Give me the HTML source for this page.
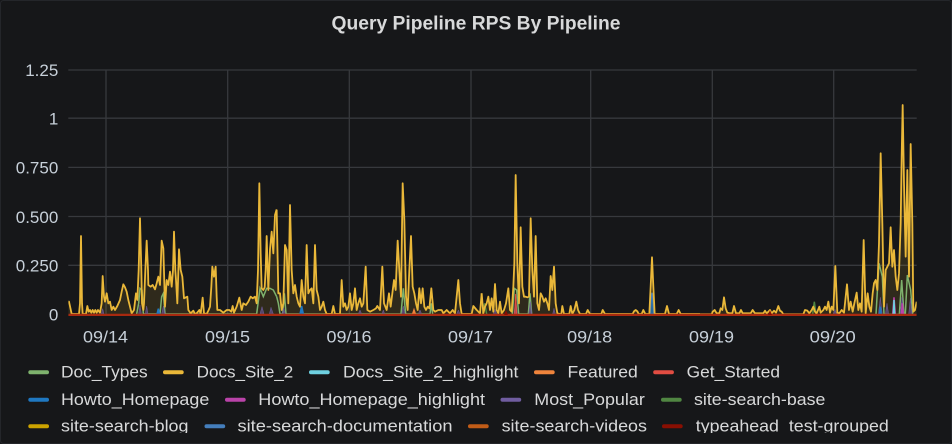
<!DOCTYPE html>
<html>
<head>
<meta charset="utf-8">
<style>
html,body{margin:0;padding:0;background:#161719;}
body{width:952px;height:444px;overflow:hidden;}
svg{display:block;}
text{font-family:"Liberation Sans",sans-serif;}
</style>
</head>
<body>
<svg width="952" height="444" viewBox="0 0 952 444" xmlns="http://www.w3.org/2000/svg">
  <defs>
    <clipPath id="plot"><rect x="68.3" y="60" width="848.4" height="256"/></clipPath>
    <clipPath id="leg"><rect x="0" y="355" width="952" height="78"/></clipPath>
  </defs>
  <rect x="0" y="0" width="952" height="444" fill="#161719"/>
  <rect x="0.5" y="0.5" width="951" height="443" rx="3" ry="3" fill="none" stroke="#24262a" stroke-width="1"/>

  <!-- Title -->
  <text x="476" y="29.5" text-anchor="middle" font-size="19.5" font-weight="bold" fill="#d8d9da" textLength="289" lengthAdjust="spacingAndGlyphs">Query Pipeline RPS By Pipeline</text>

  <!-- grid -->
  <g stroke="#37393d" stroke-width="1.3">
    <line x1="68.3" y1="70" x2="916.7" y2="70"/>
    <line x1="68.3" y1="118.2" x2="916.7" y2="118.2"/>
    <line x1="68.3" y1="167.4" x2="916.7" y2="167.4"/>
    <line x1="68.3" y1="216.5" x2="916.7" y2="216.5"/>
    <line x1="68.3" y1="265.3" x2="916.7" y2="265.3"/>
    <line x1="106" y1="70" x2="106" y2="314"/>
    <line x1="227.7" y1="70" x2="227.7" y2="314"/>
    <line x1="349.3" y1="70" x2="349.3" y2="314"/>
    <line x1="471" y1="70" x2="471" y2="314"/>
    <line x1="590.7" y1="70" x2="590.7" y2="314"/>
    <line x1="712.3" y1="70" x2="712.3" y2="314"/>
    <line x1="833.7" y1="70" x2="833.7" y2="314"/>
  </g>

  <!-- y labels -->
  <g font-size="17" fill="#c7d0d9" text-anchor="end">
    <text x="58.3" y="76">1.25</text>
    <text x="58.3" y="124.5">1</text>
    <text x="58.3" y="173.7">0.750</text>
    <text x="58.3" y="222.8">0.500</text>
    <text x="58.3" y="271.6">0.250</text>
    <text x="58.3" y="320.6">0</text>
  </g>
  <!-- x labels -->
  <g font-size="17" fill="#c7d0d9" text-anchor="middle">
    <text x="105.5" y="342.5" textLength="45" lengthAdjust="spacingAndGlyphs">09/14</text>
    <text x="227.5" y="342.5" textLength="45" lengthAdjust="spacingAndGlyphs">09/15</text>
    <text x="349" y="342.5" textLength="45" lengthAdjust="spacingAndGlyphs">09/16</text>
    <text x="470.5" y="342.5" textLength="45" lengthAdjust="spacingAndGlyphs">09/17</text>
    <text x="589.7" y="342.5" textLength="45" lengthAdjust="spacingAndGlyphs">09/18</text>
    <text x="711.5" y="342.5" textLength="45" lengthAdjust="spacingAndGlyphs">09/19</text>
    <text x="832.7" y="342.5" textLength="46" lengthAdjust="spacingAndGlyphs">09/20</text>
  </g>

  <g clip-path="url(#plot)">
    <!-- Segment 1 -->
    <g transform="translate(60,170) scale(0.333333)">
      <polygon fill="#eab839" fill-opacity="0.12" points="25,432 25,395 27,395 35,432 57,432 60,400 63,198 66,400 68,432 78,432 82,408 86,425 90,420 94,428 98,420 102,428 106,420 110,428 114,420 120,428 125,400 128,318 132,380 135,395 140,370 145,400 150,395 155,420 160,410 165,420 172,408 180,390 185,365 190,343 195,352 200,365 205,390 210,410 215,430 222,420 228,370 232,390 236,300 240,145 244,300 246,400 250,420 252,400 256,300 260,212 264,300 265,345 272,350 278,345 285,358 290,340 295,320 300,345 305,212 310,235 315,410 320,330 325,345 330,305 335,350 339,300 342,185 346,300 348,330 352,400 357,238 362,300 367,320 372,385 378,382 382,380 385,420 392,430 400,422 405,432 410,430 418,420 422,432 428,383 432,430 440,432 446,420 450,410 454,350 457,290 462,320 467,290 470,380 472,420 480,420 490,428 500,420 508,420 514,425 518,408 522,428 530,410 538,383 545,420 550,400 558,405 565,395 572,380 578,385 585,380 590,400 594,300 598,40 602,250 605,355 610,360 614,352 617,300 620,198 623,300 625,360 630,238 635,185 640,250 645,135 650,118 650,432"/>
      <polyline fill="none" stroke="#7eb26d" stroke-width="1.5" vector-effect="non-scaling-stroke" points="230,432 236,400 240,355 246,360 250,432 300,432 305,380 310,370 315,432 590,432 600,355 610,380 620,355 630,355 640,360 650,380"/>
      <g fill="#705da0" fill-opacity="0.6" stroke="#705da0" stroke-width="1.5" vector-effect="non-scaling-stroke">
        <polygon points="124,432 128,416 132,432"/>
        <polygon points="236,432 240,405 244,432"/>
        <polygon points="256,432 260,408 264,432"/>
        <polygon points="305,432 310,408 315,432"/>
        <polygon points="600,432 606,410 612,432"/>
        <polygon points="628,432 633,412 640,432"/>
      </g>
      <polygon points="291,432 295,416 299,432" fill="#1f78c1" stroke="#1f78c1" stroke-width="1.5" vector-effect="non-scaling-stroke"/>
      <polyline fill="none" stroke="#eab839" stroke-width="1.8" stroke-linejoin="round" vector-effect="non-scaling-stroke" points="25,395 27,395 35,432 57,432 60,400 63,198 66,400 68,432 78,432 82,408 86,425 90,420 94,428 98,420 102,428 106,420 110,428 114,420 120,428 125,400 128,318 132,380 135,395 140,370 145,400 150,395 155,420 160,410 165,420 172,408 180,390 185,365 190,343 195,352 200,365 205,390 210,410 215,430 222,420 228,370 232,390 236,300 240,145 244,300 246,400 250,420 252,400 256,300 260,212 264,300 265,345 272,350 278,345 285,358 290,340 295,320 300,345 305,212 310,235 315,410 320,330 325,345 330,305 335,350 339,300 342,185 346,300 348,330 352,400 357,238 362,300 367,320 372,385 378,382 382,380 385,420 392,430 400,422 405,432 410,430 418,420 422,432 428,383 432,430 440,432 446,420 450,410 454,350 457,290 462,320 467,290 470,380 472,420 480,420 490,428 500,420 508,420 514,425 518,408 522,428 530,410 538,383 545,420 550,400 558,405 565,395 572,380 578,385 585,380 590,400 594,300 598,40 602,250 605,355 610,360 614,352 617,300 620,198 623,300 625,360 630,238 635,185 640,250 645,135 650,118"/>
    </g>

    <!-- Segment 2 -->
    <g transform="translate(270,170) scale(0.333333)">
      <polygon fill="#eab839" fill-opacity="0.12" points="20,432 20,120 25,370 30,370 35,420 40,400 45,225 50,240 55,400 60,105 65,300 70,370 75,345 80,380 85,400 90,410 95,330 100,380 105,400 110,225 115,370 120,360 125,355 130,400 135,225 140,360 145,380 150,420 155,410 160,395 165,420 170,432 185,432 190,408 195,432 210,432 215,330 220,410 225,400 230,420 235,410 240,370 245,420 250,400 255,355 260,420 265,400 270,385 275,410 280,400 287,290 292,420 300,425 310,420 318,415 322,408 330,420 337,290 342,400 350,420 357,370 362,410 367,370 372,330 377,360 383,212 388,300 393,380 398,40 403,150 408,380 413,420 418,300 423,198 428,350 433,370 438,400 443,420 448,355 453,400 458,355 463,410 468,420 473,410 478,415 484,355 490,420 495,425 505,420 515,420 520,430 530,420 540,430 548,420 555,430 565,330 570,400 575,432 605,432 610,408 620,420 630,430 635,370 635,432"/>
      <polyline fill="none" stroke="#7eb26d" stroke-width="1.5" vector-effect="non-scaling-stroke" points="20,380 25,400 30,432 38,432 43,370 48,432 393,432 400,355 407,432 480,432 484,400 488,432"/>
      <g fill="#705da0" fill-opacity="0.6" stroke="#705da0" stroke-width="1.5" vector-effect="non-scaling-stroke">
        <polygon points="36,432 41,414 46,432"/>
        <polygon points="265,432 270,420 275,432"/>
        <polygon points="336,432 340,420 344,432"/>
        <polygon points="395,432 400,408 405,432"/>
        <polygon points="445,432 450,420 455,432"/>
        <polygon points="560,432 565,420 570,432"/>
      </g>
      <polygon points="90,432 95,408 100,432" fill="#1f78c1" stroke="#1f78c1" stroke-width="1.5" vector-effect="non-scaling-stroke"/>
      <polygon points="428,432 432,420 436,432" fill="#ef843c" stroke="#ef843c" stroke-width="1.5" vector-effect="non-scaling-stroke"/>
      <polyline fill="none" stroke="#eab839" stroke-width="1.8" stroke-linejoin="round" vector-effect="non-scaling-stroke" points="20,120 25,370 30,370 35,420 40,400 45,225 50,240 55,400 60,105 65,300 70,370 75,345 80,380 85,400 90,410 95,330 100,380 105,400 110,225 115,370 120,360 125,355 130,400 135,225 140,360 145,380 150,420 155,410 160,395 165,420 170,432 185,432 190,408 195,432 210,432 215,330 220,410 225,400 230,420 235,410 240,370 245,420 250,400 255,355 260,420 265,400 270,385 275,410 280,400 287,290 292,420 300,425 310,420 318,415 322,408 330,420 337,290 342,400 350,420 357,370 362,410 367,370 372,330 377,360 383,212 388,300 393,380 398,40 403,150 408,380 413,420 418,300 423,198 428,350 433,370 438,400 443,420 448,355 453,400 458,355 463,410 468,420 473,410 478,415 484,355 490,420 495,425 505,420 515,420 520,430 530,420 540,430 548,420 555,430 565,330 570,400 575,432 605,432 610,408 620,420 630,430 635,370"/>
    </g>

    <!-- Segment 3 -->
    <g transform="translate(480,170) scale(0.333333)">
      <polygon fill="#eab839" fill-opacity="0.12" points="5,432 5,370 10,430 15,410 20,400 25,380 30,420 35,385 40,425 45,342 50,420 55,430 60,395 65,430 72,420 78,400 85,355 90,420 95,425 100,350 103,280 107,15 112,280 117,400 122,172 127,350 132,380 137,380 142,382 147,380 152,145 157,300 162,380 167,198 172,400 177,420 182,370 187,380 192,395 197,385 202,400 207,420 212,318 217,360 222,290 227,400 232,430 240,432 244,432 247,408 252,432 268,432 272,408 277,432 283,420 289,395 294,420 300,432 318,432 323,420 330,432 364,432 368,420 375,432 458,432 462,424 467,420 472,424 476,432 485,432 490,420 496,432 508,432 512,350 516,262 520,350 524,432 555,432 561,408 567,432 590,432 596,420 602,432 660,432"/>
      <polyline fill="none" stroke="#508642" stroke-width="1.5" vector-effect="non-scaling-stroke" points="8,432 14,400 20,432"/>
      <polyline fill="none" stroke="#7eb26d" stroke-width="1.5" vector-effect="non-scaling-stroke" points="97,432 103,355 110,360 116,432 145,432 150,370 155,432"/>
      <g fill="#705da0" fill-opacity="0.6" stroke="#705da0" stroke-width="1.5" vector-effect="non-scaling-stroke">
        <polygon points="40,432 45,418 50,432"/>
        <polygon points="102,432 107,385 112,432"/>
        <polygon points="146,432 151,395 156,432"/>
        <polygon points="218,432 222,415 226,432"/>
      </g>
      <polygon points="104,432 107,372 110,432" fill="#e24d42" fill-opacity="0.5" stroke="#e24d42" stroke-width="1" vector-effect="non-scaling-stroke"/>
      <polygon points="510,432 513,390 516,368 519,390 522,432" fill="#1f78c1" fill-opacity="0.8" stroke="#447ebc" stroke-width="1.5" vector-effect="non-scaling-stroke"/>
      <polyline fill="none" stroke="#eab839" stroke-width="1.8" stroke-linejoin="round" vector-effect="non-scaling-stroke" points="5,370 10,430 15,410 20,400 25,380 30,420 35,385 40,425 45,342 50,420 55,430 60,395 65,430 72,420 78,400 85,355 90,420 95,425 100,350 103,280 107,15 112,280 117,400 122,172 127,350 132,380 137,380 142,382 147,380 152,145 157,300 162,380 167,198 172,400 177,420 182,370 187,380 192,395 197,385 202,400 207,420 212,318 217,360 222,290 227,400 232,430 240,432 244,432 247,408 252,432 268,432 272,408 277,432 283,420 289,395 294,420 300,432 318,432 323,420 330,432 364,432 368,420 375,432 458,432 462,424 467,420 472,424 476,432 485,432 490,420 496,432 508,432 512,350 516,262 520,350 524,432 555,432 561,408 567,432 590,432 596,420 602,432 660,432"/>
    </g>

    <!-- Segment 4 -->
    <g transform="translate(700,90) scale(0.333333)">
      <polygon fill="#eab839" fill-opacity="0.12" points="0,673 35,673 38,665 44,660 50,670 58,670 62,655 67,660 72,622 77,655 82,668 90,670 97,670 102,648 108,670 118,670 123,660 128,670 152,670 158,660 165,670 190,670 195,662 200,670 210,660 215,670 222,662 228,668 235,648 240,662 245,665 250,673 310,673 315,660 322,662 328,670 335,660 340,650 345,665 350,670 358,650 362,668 370,660 375,650 380,660 385,635 390,668 395,650 400,660 406,528 412,668 418,670 425,660 432,668 441,583 447,660 452,635 458,665 463,640 470,608 475,660 480,640 485,665 491,450 497,670 503,610 508,650 513,665 518,610 522,580 527,570 532,600 537,460 542,190 547,400 552,650 557,540 562,530 567,520 572,412 577,530 582,480 587,560 592,600 597,550 602,400 605,200 608,45 612,280 617,500 622,240 627,560 632,162 637,400 640,665 645,660 650,635 650,673"/>
      <polyline fill="none" stroke="#508642" stroke-width="1.5" vector-effect="non-scaling-stroke" points="338,673 343,635 348,673"/>
      <polyline fill="none" stroke="#7eb26d" stroke-width="1.5" vector-effect="non-scaling-stroke" points="528,673 537,520 547,560 552,673 598,673 605,570 612,673 616,673 622,555 632,600 638,673"/>
      <g fill="#705da0" fill-opacity="0.6" stroke="#705da0" stroke-width="1.5" vector-effect="non-scaling-stroke">
        <polygon points="400,673 405,658 410,673"/>
        <polygon points="535,673 541,622 547,673"/>
        <polygon points="556,673 561,640 566,673"/>
        <polygon points="600,673 606,622 612,673"/>
        <polygon points="626,673 631,625 636,673"/>
      </g>
      <polygon points="538,673 541,650 544,673" fill="#1f78c1" stroke="#1f78c1" stroke-width="1.5" vector-effect="non-scaling-stroke"/>
      <polygon points="578,673 582,622 586,673" fill="#ba43a9" stroke="#ba43a9" stroke-width="1.5" vector-effect="non-scaling-stroke"/>
      <polygon points="604,673 607,640 610,673" fill="#ba43a9" stroke="#ba43a9" stroke-width="1.5" vector-effect="non-scaling-stroke"/>
      <polyline fill="none" stroke="#6ed0e0" stroke-width="1.5" vector-effect="non-scaling-stroke" points="580,673 582,630 584,673"/>
      <polyline fill="none" stroke="#eab839" stroke-width="1.8" stroke-linejoin="round" vector-effect="non-scaling-stroke" points="0,673 35,673 38,665 44,660 50,670 58,670 62,655 67,660 72,622 77,655 82,668 90,670 97,670 102,648 108,670 118,670 123,660 128,670 152,670 158,660 165,670 190,670 195,662 200,670 210,660 215,670 222,662 228,668 235,648 240,662 245,665 250,673 310,673 315,660 322,662 328,670 335,660 340,650 345,665 350,670 358,650 362,668 370,660 375,650 380,660 385,635 390,668 395,650 400,660 406,528 412,668 418,670 425,660 432,668 441,583 447,660 452,635 458,665 463,640 470,608 475,660 480,640 485,665 491,450 497,670 503,610 508,650 513,665 518,610 522,580 527,570 532,600 537,460 542,190 547,400 552,650 557,540 562,530 567,520 572,412 577,530 582,480 587,560 592,600 597,550 602,400 605,200 608,45 612,280 617,500 622,240 627,560 632,162 637,400 640,665 645,660 650,635"/>
    </g>

    <!-- baseline (typeahead / videos at zero) -->
    <line x1="68.3" y1="315" x2="916.7" y2="315" stroke="#a8290f" stroke-width="2.4"/>
    <polygon points="504,315 506,310 508,315" fill="#890f02"/>
    <polygon points="768,315 770,310 772,315" fill="#890f02"/>
  </g>

  <!-- Legend -->
  <g clip-path="url(#leg)" font-size="17" fill="#d8d9da">
    <!-- row 1 -->
    <rect x="28.3" y="370.3" width="20.7" height="4" rx="2" fill="#7eb26d"/>
    <text x="61" y="377.7" textLength="86.7" lengthAdjust="spacingAndGlyphs">Doc_Types</text>
    <rect x="163" y="370.3" width="20.7" height="4" rx="2" fill="#eab839"/>
    <text x="196.7" y="377.7" textLength="96.6" lengthAdjust="spacingAndGlyphs">Docs_Site_2</text>
    <rect x="309" y="370.3" width="20.7" height="4" rx="2" fill="#6ed0e0"/>
    <text x="343" y="377.7" textLength="175.4" lengthAdjust="spacingAndGlyphs">Docs_Site_2_highlight</text>
    <rect x="534" y="370.3" width="20.7" height="4" rx="2" fill="#ef843c"/>
    <text x="567.5" y="377.7" textLength="70.3" lengthAdjust="spacingAndGlyphs">Featured</text>
    <rect x="653.2" y="370.3" width="20.7" height="4" rx="2" fill="#e24d42"/>
    <text x="686.7" y="377.7" textLength="93.3" lengthAdjust="spacingAndGlyphs">Get_Started</text>
    <!-- row 2 -->
    <rect x="28.3" y="397.7" width="20.7" height="4" rx="2" fill="#1f78c1"/>
    <text x="61" y="405" textLength="148.3" lengthAdjust="spacingAndGlyphs">Howto_Homepage</text>
    <rect x="225" y="397.7" width="20.7" height="4" rx="2" fill="#ba43a9"/>
    <text x="258.3" y="405" textLength="226.7" lengthAdjust="spacingAndGlyphs">Howto_Homepage_highlight</text>
    <rect x="500.5" y="397.7" width="20.7" height="4" rx="2" fill="#705da0"/>
    <text x="534.3" y="405" textLength="110.5" lengthAdjust="spacingAndGlyphs">Most_Popular</text>
    <rect x="661" y="397.7" width="20.7" height="4" rx="2" fill="#508642"/>
    <text x="694" y="405" textLength="131.4" lengthAdjust="spacingAndGlyphs">site-search-base</text>
    <!-- row 3 -->
    <rect x="28.3" y="424.3" width="20.7" height="4" rx="2" fill="#cca300"/>
    <text x="61" y="431.7" textLength="127.5" lengthAdjust="spacingAndGlyphs">site-search-blog</text>
    <rect x="204.5" y="424.3" width="20.7" height="4" rx="2" fill="#447ebc"/>
    <text x="237.5" y="431.7" textLength="215" lengthAdjust="spacingAndGlyphs">site-search-documentation</text>
    <rect x="468" y="424.3" width="20.7" height="4" rx="2" fill="#c15c17"/>
    <text x="501.6" y="431.7" textLength="145.4" lengthAdjust="spacingAndGlyphs">site-search-videos</text>
    <rect x="662" y="424.3" width="20.7" height="4" rx="2" fill="#890f02"/>
    <text x="695.8" y="431.7" textLength="193" lengthAdjust="spacingAndGlyphs">typeahead_test-grouped</text>
  </g>
</svg>
</body>
</html>
